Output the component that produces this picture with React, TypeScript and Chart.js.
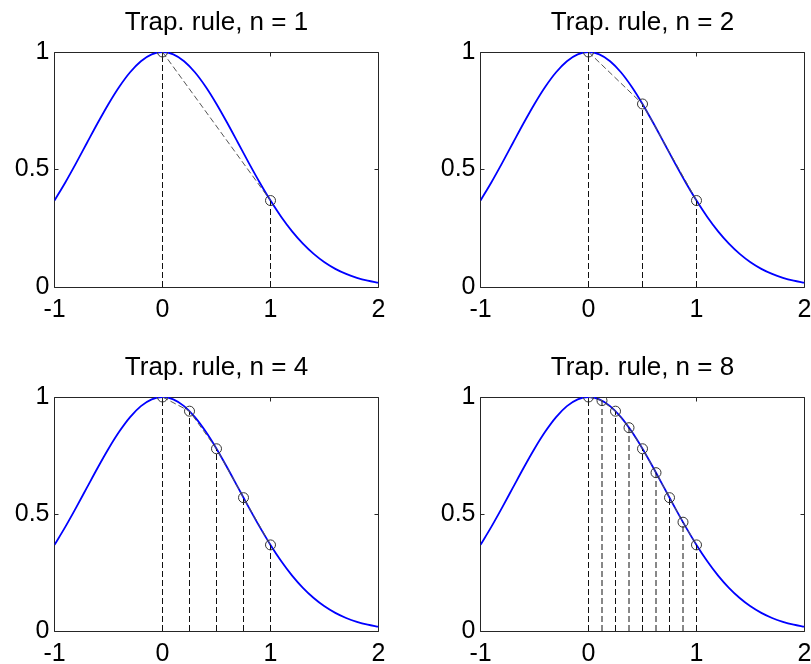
import React, { useEffect, useRef } from "react";
import { Chart, registerables } from "chart.js";

Chart.register(...registerables);

// ---- data ----
const CURVE_X = [
  -1.0, -0.9, -0.8, -0.7, -0.6, -0.5, -0.4, -0.3, -0.2, -0.1,
  0.0, 0.1, 0.2, 0.3, 0.4, 0.5, 0.6, 0.7, 0.8, 0.9,
  1.0, 1.1, 1.2, 1.3, 1.4, 1.5, 1.6, 1.7, 1.8, 1.9, 2.0,
];
const CURVE_Y = [
  0.3679, 0.4449, 0.5273, 0.6126, 0.6977, 0.7788, 0.8521, 0.9139, 0.9608, 0.99,
  1.0, 0.99, 0.9608, 0.9139, 0.8521, 0.7788, 0.6977, 0.6126, 0.5273, 0.4449,
  0.3679, 0.2982, 0.2369, 0.1845, 0.1409, 0.1054, 0.0773, 0.0556, 0.0392, 0.0271, 0.0183,
];

const NODES_X_N1 = [0, 1];
const NODES_Y_N1 = [1.0, 0.3679];
const NODES_X_N2 = [0, 0.5, 1];
const NODES_Y_N2 = [1.0, 0.7788, 0.3679];
const NODES_X_N4 = [0, 0.25, 0.5, 0.75, 1];
const NODES_Y_N4 = [1.0, 0.9394, 0.7788, 0.5698, 0.3679];
const NODES_X_N8 = [0, 0.125, 0.25, 0.375, 0.5, 0.625, 0.75, 0.875, 1];
const NODES_Y_N8 = [1.0, 0.9845, 0.9394, 0.8688, 0.7788, 0.6766, 0.5698, 0.465, 0.3679];

const PANEL_N = [1, 2, 4, 8];
const X_TICKS = [-1, 0, 1, 2];
const X_TICK_LABELS = ["-1", "0", "1", "2"];
const Y_TICKS = [0, 0.5, 1];
const Y_TICK_LABELS = ["0", "0.5", "1"];
const X_RANGE = [-1, 2];
const Y_RANGE = [0, 1];

const FONT = '"Liberation Sans", Arial, Helvetica, sans-serif';

type PanelSpec = {
  n: number;
  nodesX: number[];
  nodesY: number[];
  left: number;
  top: number;
  width: number;
  height: number;
  yAxisW: number;
  padRight: number;
};

const PANELS: PanelSpec[] = [
  { n: PANEL_N[0], nodesX: NODES_X_N1, nodesY: NODES_Y_N1, left: 0, top: 0, width: 405, height: 320, yAxisW: 54, padRight: 27 },
  { n: PANEL_N[1], nodesX: NODES_X_N2, nodesY: NODES_Y_N2, left: 405, top: 0, width: 406, height: 320, yAxisW: 75, padRight: 7 },
  { n: PANEL_N[2], nodesX: NODES_X_N4, nodesY: NODES_Y_N4, left: 0, top: 345, width: 405, height: 319, yAxisW: 54, padRight: 27 },
  { n: PANEL_N[3], nodesX: NODES_X_N8, nodesY: NODES_Y_N8, left: 405, top: 345, width: 406, height: 319, yAxisW: 75, padRight: 7 },
];

const boxPlugin = {
  id: "matlabBox",
  beforeDatasetsDraw(chart: any) {
    const { ctx, chartArea: a, scales } = chart;
    const L = Math.floor(a.left) + 0.5;
    const R = Math.floor(a.right) + 0.5;
    const T = Math.floor(a.top) + 0.5;
    const B = Math.floor(a.bottom) + 0.5;
    const tl = 4;
    ctx.save();
    ctx.strokeStyle = "#262626";
    ctx.lineWidth = 1;
    ctx.setLineDash([]);
    ctx.beginPath();
    ctx.rect(L, T, R - L, B - T);
    for (const v of X_TICKS) {
      const px = Math.floor(scales.x.getPixelForValue(v)) + 0.5;
      ctx.moveTo(px, B);
      ctx.lineTo(px, B - tl);
      ctx.moveTo(px, T);
      ctx.lineTo(px, T + tl);
    }
    for (const v of Y_TICKS) {
      const py = Math.floor(scales.y.getPixelForValue(v)) + 0.5;
      ctx.moveTo(L, py);
      ctx.lineTo(L + tl, py);
      ctx.moveTo(R, py);
      ctx.lineTo(R - tl, py);
    }
    ctx.stroke();
    ctx.restore();
  },
};

function labelFor(values: number[], labels: string[], v: number) {
  const i = values.findIndex((t) => Math.abs(t - v) < 1e-9);
  return i >= 0 ? labels[i] : "";
}

function Panel({ spec }: { spec: PanelSpec }) {
  const ref = useRef<HTMLCanvasElement | null>(null);

  useEffect(() => {
    if (!ref.current) return;
    const curve = CURVE_X.map((x, i) => ({ x, y: CURVE_Y[i] }));
    const nodes = spec.nodesX.map((x, i) => ({ x, y: spec.nodesY[i] }));
    const verticals: any[] = [];
    spec.nodesX.forEach((x, i) => {
      verticals.push({ x, y: 0 });
      verticals.push({ x, y: spec.nodesY[i] });
      verticals.push({ x, y: null });
    });

    const chart = new Chart(ref.current, {
      type: "line",
      data: {
        datasets: [
          {
            data: curve,
            borderColor: "#0000ff",
            borderWidth: 1.8,
            pointRadius: 0,
            cubicInterpolationMode: "monotone",
            fill: false,
            order: 3,
          } as any,
          {
            data: verticals,
            borderColor: "#111111",
            borderWidth: 1,
            borderDash: [6, 3],
            pointRadius: 0,
            spanGaps: false,
            fill: false,
            order: 2,
          },
          {
            data: nodes,
            borderColor: "#555555",
            borderWidth: 1,
            borderDash: [6, 3],
            pointRadius: 5,
            pointStyle: "circle",
            pointBorderColor: "#333333",
            pointBackgroundColor: "rgba(0,0,0,0)",
            pointBorderWidth: 1,
            fill: false,
            order: 1,
          },
        ],
      },
      options: {
        animation: false,
        responsive: false,
        devicePixelRatio: 1,
        layout: { padding: { left: 0.5, right: spec.padRight - 0.5, top: 0, bottom: 0 } },
        plugins: {
          legend: { display: false },
          tooltip: { enabled: false },
          title: {
            display: true,
            text: `Trap. rule, n = ${spec.n}`,
            color: "#000000",
            fullSize: false,
            font: { family: FONT, size: 26, weight: "normal", lineHeight: 1.2 },
            padding: { top: 7, bottom: 13.8 },
          },
        },
        scales: {
          x: {
            type: "linear",
            min: X_RANGE[0],
            max: X_RANGE[1],
            grid: { display: false, drawTicks: false },
            border: { display: false },
            ticks: {
              stepSize: 1,
              color: "#000000",
              padding: 8,
              maxRotation: 0,
              font: { family: FONT, size: 25 },
              callback: (v: any) => labelFor(X_TICKS, X_TICK_LABELS, Number(v)),
            },
            afterFit(scale: any) {
              scale.height = 33;
              scale.paddingLeft = 0;
              scale.paddingRight = 0;
            },
          },
          y: {
            type: "linear",
            min: Y_RANGE[0],
            max: Y_RANGE[1],
            grid: { display: false, drawTicks: false },
            border: { display: false },
            ticks: {
              stepSize: 0.5,
              color: "#000000",
              padding: 5,
              font: { family: FONT, size: 25 },
              callback: (v: any) => labelFor(Y_TICKS, Y_TICK_LABELS, Number(v)),
            },
            afterFit(scale: any) {
              scale.width = spec.yAxisW;
              scale.paddingTop = 0;
              scale.paddingBottom = 0;
            },
          },
        },
      },
      plugins: [boxPlugin],
    } as any);

    return () => chart.destroy();
  }, [spec]);

  return (
    <canvas
      ref={ref}
      width={spec.width}
      height={spec.height}
      style={{
        position: "absolute",
        left: spec.left,
        top: spec.top,
        width: spec.width,
        height: spec.height,
        display: "block",
      }}
    />
  );
}

export default function App() {
  return (
    <div
      style={{
        position: "absolute",
        left: 0,
        top: 0,
        width: 811,
        height: 664,
        background: "#ffffff",
        overflow: "hidden",
      }}
    >
      {PANELS.map((p, i) => (
        <Panel key={i} spec={p} />
      ))}
    </div>
  );
}
